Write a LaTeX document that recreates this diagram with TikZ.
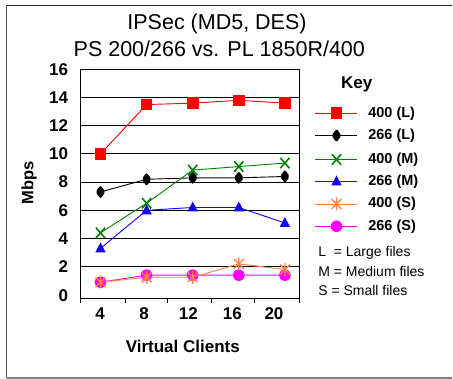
\documentclass[tikz,border=0pt]{standalone}
\usepackage{fontspec}
\setmainfont{Liberation Sans}
\definecolor{sred}{HTML}{FF0000}
\definecolor{sgreen}{HTML}{008000}
\definecolor{sblue}{HTML}{1400FF}
\definecolor{sorange}{HTML}{FF8040}
\definecolor{smag}{HTML}{FF00FF}
\newcommand\ttlfont{\fontsize{21.5}{25}\selectfont}
\newcommand\tkfont{\fontsize{17}{20}\selectfont\bfseries}
\newcommand\keyfont{\fontsize{14.5}{17}\selectfont\bfseries}
\newcommand\notefont{\fontsize{14}{17}\selectfont}
\tikzset{
  txt/.style={inner sep=0pt, outer sep=0pt},
  msq/.pic={\fill (-5.8pt,-5.8pt) rectangle (5.8pt,5.8pt);},
  mdia/.pic={\fill[rounded corners=2pt] (0pt,6.8pt) -- (5pt,0pt) -- (0pt,-6.8pt) -- (-5pt,0pt) -- cycle;},
  mx/.pic={\draw[line width=1.6pt] (-4.6pt,-5.2pt) -- (4.6pt,5.2pt) (-4.6pt,5.2pt) -- (4.6pt,-5.2pt);},
  mtri/.pic={\fill (-5.2pt,-4pt) -- (5.2pt,-4pt) -- (0pt,6pt) -- cycle;},
  mast/.pic={\draw[line width=1.3pt] (0pt,-6.5pt) -- (0pt,6.5pt) (-5pt,-5pt) -- (5pt,5pt) (-5pt,5pt) -- (5pt,-5pt);},
  mdot/.pic={\fill (0pt,0pt) circle[radius=5.8pt];},
  series/.style={line width=0.9pt},
}
\begin{document}
\begin{tikzpicture}[x=1pt,y=-1pt]
\useasboundingbox (0,0) rectangle (453,379);
\fill[white] (0,0) rectangle (453,379);

% outer frame
\draw[line width=1.2pt, color=black!85] (6.5,5.5) -- (452,5.5);
\draw[line width=1.2pt, color=black!65] (6.5,5.5) -- (6.5,378);
\draw[line width=1.2pt, color=black!50] (6.5,378) -- (452,378);

% title
\node[txt, font=\ttlfont] (t1) at (217,24.2) {IPSec (MD5, DES)};
\node[txt, font=\ttlfont] (t2) at (219.3,49) {PS 200/266 vs. PL 1850R/400};

% plot area, grid and axis ticks
\foreach \v in {2,4,...,14}
  \draw[line width=0.9pt] (80.7,{69.3+(16-\v)*14.1}) -- (299,{69.3+(16-\v)*14.1});
\draw[line width=0.9pt] (80.7,69.3) rectangle (299,298);
\foreach \x in {80.7,125,167.7,211.7,254.3,299}
  \draw[line width=0.9pt] (\x,298) -- (\x,303);

% y tick labels
\foreach \v in {2,4,...,16}
  \node[txt, anchor=east, font=\tkfont] at (68,{69.3+(16-\v)*14.1}) {\v};
\node[txt, anchor=east, font=\tkfont] (y0) at (68,296) {0};

% x tick labels
\node[txt, font=\tkfont] (x4) at (100,313.3) {4};
\node[txt, font=\tkfont] (x8) at (144,313.3) {8};
\node[txt, font=\tkfont] (x12) at (188.3,313.3) {12};
\node[txt, font=\tkfont] (x16) at (232.3,313.3) {16};
\node[txt, font=\tkfont] (x20) at (274,313.3) {20};

% axis titles
\node[txt, font=\tkfont] (xt) at (182.8,346.7) {Virtual Clients};
\node[txt, font=\fontsize{16.5}{19}\selectfont\bfseries, rotate=90] (yt) at (29,183) {Mbps};

% data series
\begin{scope}[shift={(54.4,294.9)}, x=11.525pt, y=14.1pt]
  \draw[series, sred] plot coordinates {(4,10) (8,13.5) (12,13.6) (16,13.8) (20,13.6)};
  \foreach \a/\b in {4/10,8/13.5,12/13.6,16/13.8,20/13.6} \pic[sred] at (\a,\b) {msq};
  \draw[series, black] plot coordinates {(4,7.3) (8,8.2) (12,8.3) (16,8.3) (20,8.4)};
  \foreach \a/\b in {4/7.3,8/8.2,12/8.3,16/8.3,20/8.4} \pic[black] at (\a,\b) {mdia};
  \draw[series, sgreen] plot coordinates {(4,4.4) (8,6.5) (12,8.85) (16,9.1) (20,9.35)};
  \foreach \a/\b in {4/4.4,8/6.5,12/8.85,16/9.1,20/9.35} \pic[sgreen] at (\a,\b) {mx};
  \draw[series, sblue] plot coordinates {(4,3.3) (8,6.0) (12,6.2) (16,6.2) (20,5.1)};
  \foreach \a/\b in {4/3.3,8/6.0,12/6.2,16/6.2,20/5.1} \pic[sblue] at (\a,\b) {mtri};
  \draw[series, smag] plot coordinates {(4,0.9) (8,1.4) (12,1.4) (16,1.4) (20,1.4)};
  \foreach \a/\b in {4/0.9,8/1.4,12/1.4,16/1.4,20/1.4} \pic[smag] at (\a,\b) {mdot};
  \draw[series, sorange] plot coordinates {(4,0.9) (8,1.25) (12,1.25) (16,2.2) (20,1.8)};
  \foreach \a/\b in {4/0.9,8/1.25,12/1.25,16/2.2,20/1.8} \pic[sorange] at (\a,\b) {mast};
\end{scope}

% key
\node[txt, font=\fontsize{17}{20}\selectfont\bfseries] (key) at (356.7,84) {Key};

\coordinate (k1a) at (315.3,113.3); \coordinate (k1b) at (356.7,113.3);
\draw[series, sred] (k1a) -- (k1b); \pic[sred] at (336.5,113.3) {msq};
\node[txt, anchor=west, font=\keyfont] (k1) at (368.3,113.3) {400 (L)};

\coordinate (k2a) at (315.3,135.5); \coordinate (k2b) at (356.7,135.5);
\draw[series, black] (k2a) -- (k2b); \pic[black] at (336.5,135.5) {mdia};
\node[txt, anchor=west, font=\keyfont] (k2) at (368.3,135.5) {266 (L)};

\coordinate (k3a) at (315.3,159.5); \coordinate (k3b) at (356.7,159.5);
\draw[series, sgreen] (k3a) -- (k3b); \pic[sgreen] at (336.5,159.5) {mx};
\node[txt, anchor=west, font=\keyfont] (k3) at (368.3,159.5) {400 (M)};

\coordinate (k4a) at (315.3,181.5); \coordinate (k4b) at (356.7,181.5);
\draw[series, sblue] (k4a) -- (k4b); \pic[sblue] at (336.5,181.5) {mtri};
\node[txt, anchor=west, font=\keyfont] (k4) at (368.3,181.5) {266 (M)};

\coordinate (k5a) at (315.3,204); \coordinate (k5b) at (356.7,204);
\draw[series, sorange] (k5a) -- (k5b); \pic[sorange] at (336.5,204) {mast};
\node[txt, anchor=west, font=\keyfont] (k5) at (368.3,204) {400 (S)};

\coordinate (k6a) at (315.3,226.3); \coordinate (k6b) at (356.7,226.3);
\draw[series, smag] (k6a) -- (k6b); \pic[smag] at (336.5,226.3) {mdot};
\node[txt, anchor=west, font=\keyfont] (k6) at (368.3,226.3) {266 (S)};

% notes
\node[txt, anchor=west, font=\notefont] (n1) at (318.3,252.7) {L\ \ = Large files};
\node[txt, anchor=west, font=\notefont] (n2) at (318.3,271.7) {M = Medium files};
\node[txt, anchor=west, font=\notefont] (n3) at (318.3,290) {S = Small files};
\end{tikzpicture}
\end{document}
